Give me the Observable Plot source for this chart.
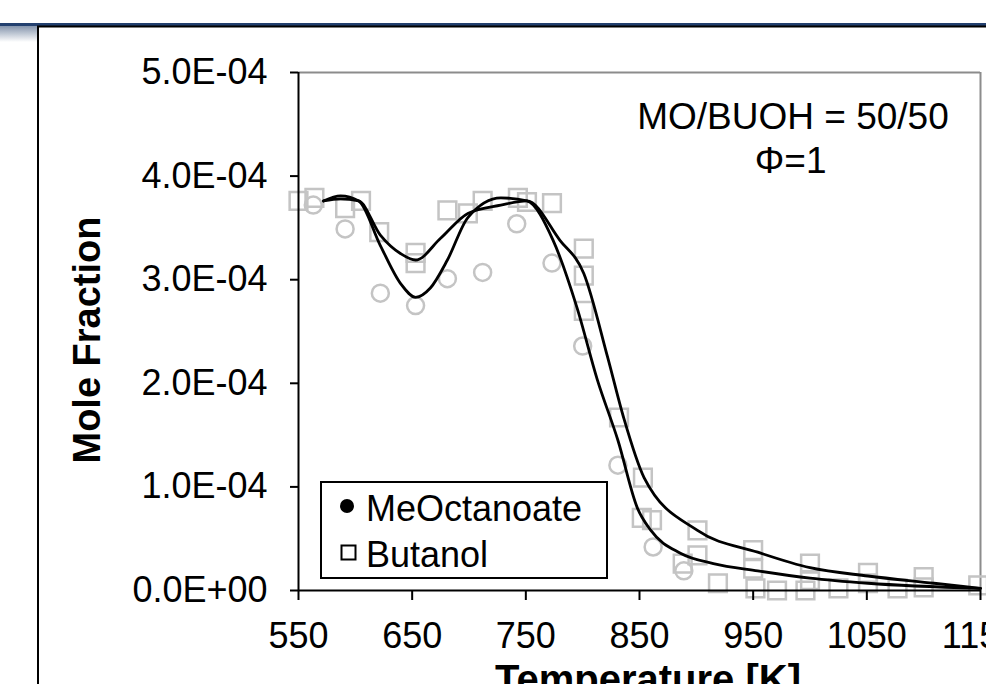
<!DOCTYPE html>
<html>
<head>
<meta charset="utf-8">
<script src="https://cdn.jsdelivr.net/npm/d3@7"></script>
<script src="https://cdn.jsdelivr.net/npm/@observablehq/plot@0.6"></script>
<style>
  html, body { margin: 0; padding: 0; background: #fff; }
  #chart svg { display: block; }
</style>
</head>
<body>
<div id="chart"></div>
<script>
// ---- data (mole fraction values) ----
const xTicks = [550, 650, 750, 850, 950, 1050, 1150];
const yTicks = [0, 1e-4, 2e-4, 3e-4, 4e-4, 5e-4];

// experimental MeOctanoate (open grey circles)
const moExpT = [563, 591, 622, 653, 681, 712, 742, 773, 800, 831, 862, 889];
const moExpY = [3.72e-4, 3.49e-4, 2.87e-4, 2.75e-4, 3.01e-4, 3.07e-4, 3.54e-4, 3.16e-4, 2.36e-4, 1.21e-4, 0.42e-4, 0.19e-4];

// experimental Butanol (open grey squares)
const buExpT = [550, 564, 591, 605, 621, 653, 653, 681, 699, 712, 743, 751, 773, 801, 801, 801, 832, 853, 852, 861, 888, 901, 901, 919, 950, 950, 952, 971, 996, 1000, 1000, 1025, 1051, 1051, 1077, 1100, 1100, 1148];
const buExpY = [3.76e-4, 3.79e-4, 3.69e-4, 3.76e-4, 3.46e-4, 3.26e-4, 3.16e-4, 3.67e-4, 3.64e-4, 3.76e-4, 3.79e-4, 3.75e-4, 3.74e-4, 3.30e-4, 3.04e-4, 2.70e-4, 1.67e-4, 1.09e-4, 0.70e-4, 0.68e-4, 0.26e-4, 0.58e-4, 0.34e-4, 0.07e-4, 0.39e-4, 0.21e-4, 0.02e-4, 0.00, 0.00, 0.26e-4, 0.10e-4, 0.02e-4, 0.17e-4, 0.07e-4, 0.02e-4, 0.13e-4, 0.03e-4, 0.05e-4];

// model MeOctanoate (deep dip)
const moModT = [572, 587, 603, 622, 640, 653, 666, 681, 699, 728, 751, 774, 795, 813, 831, 848, 860, 886, 915, 954, 1000, 1051, 1150];
const moModY = [3.76e-4, 3.81e-4, 3.76e-4, 3.33e-4, 2.96e-4, 2.83e-4, 2.92e-4, 3.19e-4, 3.60e-4, 3.79e-4, 3.76e-4, 3.38e-4, 2.73e-4, 2.03e-4, 1.45e-4, 0.80e-4, 0.58e-4, 0.36e-4, 0.26e-4, 0.19e-4, 0.12e-4, 0.07e-4, 0.02e-4];

// model Butanol (shallow dip)
const buModT = [572, 587, 603, 622, 640, 653, 675, 699, 728, 751, 780, 801, 822, 836, 854, 901, 954, 1000, 1051, 1109, 1150];
const buModY = [3.76e-4, 3.78e-4, 3.76e-4, 3.43e-4, 3.25e-4, 3.19e-4, 3.40e-4, 3.64e-4, 3.72e-4, 3.76e-4, 3.38e-4, 3.06e-4, 2.25e-4, 1.67e-4, 1.09e-4, 0.58e-4, 0.37e-4, 0.22e-4, 0.14e-4, 0.07e-4, 0.02e-4];

const legendLabels = ["MeOctanoate", "Butanol"];
const noteLines = ["MO/BUOH = 50/50", "\u03A6=1"];
const xLabel = "Temperature [K]";
const yLabel = "Mole Fraction";

// ---- helpers ----
const zip = (T, Y) => T.map((t, i) => ({T: t, y: Y[i]}));
const moExp = zip(moExpT, moExpY);
const buExp = zip(buExpT, buExpY);
const moMod = zip(moModT, moModY);
const buMod = zip(buModT, buModY);

const fmtSci = d => {
  if (d === 0) return "0.0E+00";
  const [m, e] = d.toExponential(1).split("e");
  const n = +e;
  return m + "E" + (n < 0 ? "-" : "+") + String(Math.abs(n)).padStart(2, "0");
};

const FONT = "'Liberation Sans', Arial, sans-serif";
const grey = "#c4c4c4";

const chart = Plot.plot({
  width: 986,
  height: 684,
  marginLeft: 298,
  marginRight: 6,
  marginTop: 72,
  marginBottom: 94,
  style: {fontFamily: FONT, fontSize: "36px", background: "transparent", color: "#000", overflow: "hidden"},
  x: {domain: [550, 1150]},
  y: {domain: [0, 5e-4]},
  marks: [
    Plot.ruleY([5e-4], {stroke: "#8c8c8c", strokeWidth: 2}),
    Plot.ruleX([1150], {stroke: "#8c8c8c", strokeWidth: 2}),
    Plot.dot(moExp, {x: "T", y: "y", r: 8.5, stroke: grey, strokeWidth: 2.5, fill: "none"}),
    Plot.dot(buExp, {x: "T", y: "y", r: 10, symbol: "square", stroke: grey, strokeWidth: 2.5, fill: "none"}),
    Plot.line(moMod, {x: "T", y: "y", stroke: "#000", strokeWidth: 2.8, curve: "monotone-x"}),
    Plot.line(buMod, {x: "T", y: "y", stroke: "#000", strokeWidth: 2.8, curve: "monotone-x"}),
    Plot.ruleX([550], {stroke: "#000", strokeWidth: 2}),
    Plot.ruleY([0], {stroke: "#000", strokeWidth: 2}),
    Plot.axisX({ticks: xTicks, tickSize: 10, tickPadding: 22, tickFormat: d => String(d), label: null, fontSize: 36, strokeWidth: 2, stroke: "#000", fill: "#000"}),
    Plot.axisY({ticks: yTicks, tickSize: 8, tickPadding: 23, tickFormat: fmtSci, label: null, fontSize: 36, strokeWidth: 2, stroke: "#000", fill: "#000"}),
    Plot.text([noteLines[0]], {x: () => 985, y: () => 4.57e-4, text: d => d, fontSize: 37, textAnchor: "middle", lineAnchor: "middle", fill: "#000"}),
    Plot.text([noteLines[1]], {x: () => 983, y: () => 4.14e-4, text: d => d, fontSize: 37, textAnchor: "middle", lineAnchor: "middle", fill: "#000"})
  ]
});

const svg = d3.select(chart);
// slide decorations behind the chart
const defs = svg.insert("defs", ":first-child");
const grad = defs.append("linearGradient").attr("id", "shade").attr("x1", 0).attr("y1", 0).attr("x2", 0).attr("y2", 1);
grad.append("stop").attr("offset", "0").attr("stop-color", "#8595ad");
grad.append("stop").attr("offset", "1").attr("stop-color", "#ffffff");
const bg = svg.insert("g", "defs + *");
bg.append("rect").attr("x", 0).attr("y", 0).attr("width", 986).attr("height", 684).attr("fill", "#fff");
bg.append("rect").attr("x", 0).attr("y", 26).attr("width", 37).attr("height", 16).attr("fill", "url(#shade)");
bg.append("rect").attr("x", 0).attr("y", 23).attr("width", 986).attr("height", 3).attr("fill", "#23406f");
bg.append("rect").attr("x", 38).attr("y", 26.5).attr("width", 1000).attr("height", 700).attr("fill", "none").attr("stroke", "#000").attr("stroke-width", 2);

// axis titles
svg.append("text").attr("transform", "translate(100,340) rotate(-90)")
  .attr("text-anchor", "middle").attr("font-family", FONT).attr("font-weight", "bold")
  .attr("font-size", 38).attr("fill", "#000").text(yLabel);
svg.append("text").attr("x", 648).attr("y", 693)
  .attr("text-anchor", "middle").attr("font-family", FONT).attr("font-weight", "bold")
  .attr("font-size", 40).attr("fill", "#000").text(xLabel);

// legend
const lg = svg.append("g").attr("text-anchor", "start");
lg.append("rect").attr("x", 321).attr("y", 482).attr("width", 286).attr("height", 96)
  .attr("fill", "#fff").attr("stroke", "#000").attr("stroke-width", 2);
lg.append("circle").attr("cx", 347).attr("cy", 506).attr("r", 7).attr("fill", "#000");
lg.append("rect").attr("x", 341.5).attr("y", 545.5).attr("width", 14).attr("height", 14)
  .attr("fill", "#fff").attr("stroke", "#000").attr("stroke-width", 2);
lg.append("text").attr("x", 366).attr("y", 521).attr("text-anchor", "start").attr("font-family", FONT).attr("font-size", 36).attr("fill", "#000").text(legendLabels[0]);
lg.append("text").attr("x", 366).attr("y", 567).attr("text-anchor", "start").attr("font-family", FONT).attr("font-size", 36).attr("fill", "#000").text(legendLabels[1]);

document.getElementById("chart").appendChild(chart);
</script>
</body>
</html>
